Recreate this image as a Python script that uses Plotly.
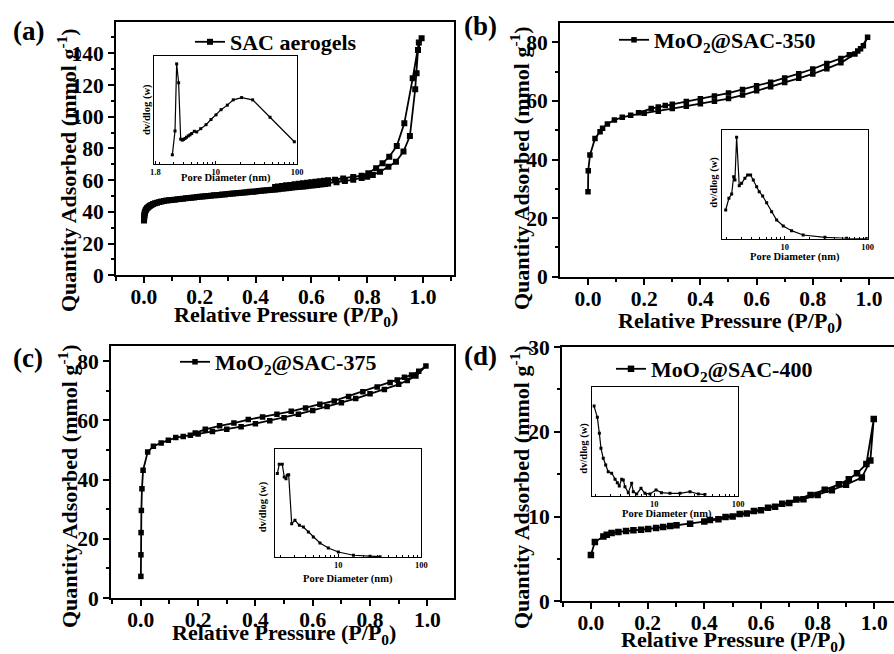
import math
import plotly.graph_objects as go

W, H = 894, 654
FONT = "Liberation Serif"

# ---------------- data ----------------
# (a) SAC aerogels
ads_a_x = [0.0003, 0.0006, 0.001, 0.0015, 0.002, 0.003, 0.004, 0.006, 0.008, 0.011, 0.014, 0.018,
           0.022, 0.027, 0.033, 0.04, 0.047, 0.055, 0.063, 0.072, 0.081, 0.09,
           0.10, 0.11, 0.12, 0.13, 0.14, 0.15, 0.16, 0.17, 0.18, 0.19, 0.20, 0.21, 0.22, 0.23,
           0.24, 0.25, 0.26, 0.27, 0.28, 0.29, 0.30, 0.31, 0.32, 0.33, 0.34, 0.35, 0.36, 0.37,
           0.38, 0.39, 0.40, 0.41, 0.42, 0.43, 0.44, 0.45, 0.46, 0.47, 0.48, 0.49, 0.50, 0.51,
           0.52, 0.53, 0.54, 0.55, 0.56, 0.57, 0.58, 0.59, 0.60, 0.61, 0.62, 0.63, 0.64, 0.65,
           0.66, 0.69, 0.72, 0.75, 0.78, 0.80, 0.82, 0.846, 0.876, 0.903, 0.93, 0.953, 0.972,
           0.977, 0.982, 0.995]
ads_a_y = [34.5, 35.5, 36.5, 37.5, 38.3, 39.2, 39.9, 40.8, 41.5, 42.2, 42.8, 43.4,
           43.9, 44.4, 44.9, 45.4, 45.8, 46.2, 46.5, 46.8, 47.1, 47.3,
           47.5, 47.7, 47.9, 48.1, 48.3, 48.5, 48.7, 48.9, 49.1, 49.3, 49.5, 49.7, 49.8, 50.0,
           50.2, 50.4, 50.5, 50.7, 50.9, 51.0, 51.2, 51.4, 51.5, 51.7, 51.9, 52.0, 52.2, 52.4,
           52.6, 52.7, 52.9, 53.1, 53.3, 53.4, 53.6, 53.8, 54.0, 54.1, 54.3, 54.5, 54.7, 54.9,
           55.1, 55.3, 55.5, 55.6, 55.8, 56.0, 56.2, 56.4, 56.6, 56.8, 57.0, 57.2, 57.4, 57.6,
           57.8, 58.7, 59.4, 60.3, 61.3, 62.2, 63.3, 65.3, 68.5, 71.6, 78.0, 87.8, 117.3,
           127.4, 142.0, 149.5]
des_a_x = [0.985, 0.963, 0.933, 0.906, 0.879, 0.855, 0.832, 0.804, 0.78, 0.75, 0.714, 0.685,
           0.66, 0.645, 0.63, 0.615, 0.60, 0.585, 0.57, 0.555, 0.54, 0.525, 0.51, 0.495, 0.48, 0.47]
des_a_y = [146.7, 124.2, 95.8, 81.5, 74.8, 70.6, 67.5, 64.3, 62.8, 62.0, 61.1, 60.3,
           59.9, 59.6, 59.3, 59.0, 58.7, 58.4, 58.1, 57.7, 57.4, 57.0, 56.7, 56.3, 56.0, 55.6]

# (b) MoO2@SAC-350
ads_b_x = [0.0, 0.001, 0.007, 0.025, 0.043, 0.052, 0.069, 0.094, 0.122, 0.152, 0.2, 0.25,
           0.3, 0.35, 0.4, 0.45, 0.5, 0.55, 0.6, 0.65, 0.7, 0.75, 0.8, 0.85, 0.9, 0.95, 0.97, 0.995]
ads_b_y = [29.0, 36.2, 41.5, 47.2, 49.5, 50.7, 52.1, 53.5, 54.4, 55.1, 55.8, 56.5,
           57.4, 58.2, 59.0, 59.9, 60.8, 62.0, 63.5, 64.8, 66.3, 67.7, 69.2, 71.0, 73.0, 76.0, 77.8, 81.7]
des_b_x = [0.98, 0.96, 0.93, 0.9, 0.85, 0.8, 0.75, 0.7, 0.65, 0.6, 0.55, 0.5, 0.45, 0.4,
           0.35, 0.3, 0.275, 0.25, 0.225, 0.18]
des_b_y = [78.8, 77.0, 75.8, 74.5, 72.8, 70.9, 69.3, 67.8, 66.4, 65.2, 63.9, 62.7, 61.7, 60.7,
           59.8, 58.9, 58.4, 57.9, 57.4, 56.0]

# (c) MoO2@SAC-375
ads_c_x = [0.0002, 0.0005, 0.001, 0.002, 0.004, 0.008, 0.024, 0.044, 0.071, 0.096, 0.122, 0.148,
           0.173, 0.2, 0.25, 0.3, 0.35, 0.4, 0.45, 0.5, 0.55, 0.6, 0.65, 0.7, 0.75, 0.8, 0.85,
           0.9, 0.93, 0.96, 0.995]
ads_c_y = [7.3, 14.6, 22.1, 29.6, 36.9, 43.2, 49.3, 51.3, 52.4, 53.3, 54.2, 54.6,
           55.0, 55.4, 56.3, 57.0, 57.9, 58.9, 59.9, 60.9, 62.1, 63.4, 64.7, 66.0, 67.4, 69.0, 70.5,
           72.2, 73.5, 75.0, 78.4]
des_c_x = [0.97, 0.945, 0.92, 0.895, 0.87, 0.825, 0.775, 0.725, 0.675, 0.625, 0.575, 0.525,
           0.475, 0.425, 0.375, 0.325, 0.275, 0.225, 0.19]
des_c_y = [76.6, 75.4, 74.6, 73.7, 72.8, 71.3, 69.7, 68.1, 66.6, 65.5, 64.2, 63.1,
           62.1, 61.2, 60.3, 59.1, 58.2, 57.0, 55.8]

# (d) MoO2@SAC-400
ads_d_x = [0.0, 0.014, 0.044, 0.056, 0.073, 0.097, 0.124, 0.15, 0.177, 0.202, 0.23, 0.255, 0.28,
           0.302, 0.35, 0.4, 0.45, 0.5, 0.55, 0.6, 0.65, 0.7, 0.75, 0.8, 0.85, 0.9, 0.956, 0.986, 0.998]
ads_d_y = [5.45, 7.0, 7.65, 7.85, 8.05, 8.18, 8.3, 8.37, 8.45, 8.53, 8.65, 8.77, 8.88,
           8.96, 9.15, 9.4, 9.68, 10.0, 10.35, 10.75, 11.15, 11.6, 12.05, 12.55, 13.1, 13.75, 14.6, 16.6, 21.5]
des_d_x = [0.972, 0.939, 0.91, 0.875, 0.825, 0.775, 0.725, 0.675, 0.625, 0.575, 0.525, 0.475, 0.42]
des_d_y = [16.2, 15.1, 14.4, 13.8, 13.15, 12.55, 12.0, 11.5, 11.05, 10.65, 10.3, 9.95, 9.6]

# insets: pore diameter (nm) vs dv/dlog(w) (relative units)
pore_a = [2.91, 3.14, 3.29, 3.48, 3.69, 3.86, 4.0, 4.17, 4.35, 4.58, 4.8, 5.04, 5.43, 5.81,
          6.51, 7.57, 8.72, 10.05, 11.6, 13.85, 16.4, 20.8, 28.4, 46.5, 92.7]
dv_a = [0.085, 0.306, 0.927, 0.752, 0.23, 0.221, 0.228, 0.236, 0.248, 0.26, 0.27, 0.282, 0.303,
        0.297, 0.327, 0.364, 0.412, 0.455, 0.503, 0.545, 0.594, 0.615, 0.594, 0.433, 0.206]
pore_b = [1.95, 2.13, 2.30, 2.43, 2.52, 2.64, 2.84, 3.03, 3.32, 3.58, 3.89, 4.19, 4.6, 4.94,
          5.43, 6.07, 6.97, 8.01, 9.62, 12.1, 16.7, 30.6, 55.8, 97.3]
dv_b = [0.264, 0.372, 0.411, 0.57, 0.54, 0.933, 0.488, 0.51, 0.556, 0.586, 0.586, 0.54, 0.478,
        0.432, 0.393, 0.331, 0.248, 0.172, 0.117, 0.074, 0.034, 0.013, 0.004, 0.002]
pore_c = [1.84, 1.94, 2.11, 2.23, 2.34, 2.43, 2.52, 2.74, 3.0, 3.39, 3.79, 4.35, 4.99, 6.01,
          7.57, 10.0, 15.2, 24.1, 31.8]
dv_c = [0.77, 0.856, 0.856, 0.739, 0.723, 0.754, 0.76, 0.308, 0.339, 0.293, 0.277, 0.231,
        0.185, 0.129, 0.083, 0.046, 0.016, 0.006, 0.003]
pore_d = [1.91, 2.09, 2.21, 2.31, 2.46, 2.63, 2.82, 3.1, 3.4, 3.62, 3.82, 4.08, 4.27, 4.47,
          4.9, 5.37, 5.62, 6.17, 6.94, 7.74, 8.89, 10.5, 12.2, 15.4, 20.3, 26.7, 33.6, 40.3]
dv_d = [0.827, 0.723, 0.576, 0.437, 0.345, 0.283, 0.221, 0.207, 0.151, 0.12, 0.089, 0.151,
        0.145, 0.083, 0.028, 0.114, 0.037, 0.016, 0.068, 0.022, 0.016, 0.053, 0.028, 0.022,
        0.022, 0.037, 0.016, 0.01]

names = ["SAC aerogels", "MoO<sub>2</sub>@SAC-350", "MoO<sub>2</sub>@SAC-375", "MoO<sub>2</sub>@SAC-400"]
panel_labels = ["(a)", "(b)", "(c)", "(d)"]

# ---------------- layout geometry (pixels) ----------------
def fx(p): return p / W
def fy(p): return 1 - p / H

main_geom = [  # x0, x1, ytop, ybottom, xrange, yrange, ydtick, mirror_y, marker size
    (116, 454, 22, 275.3, [-0.1, 1.111], [0, 159.7], 20, True, 6),
    (560, 894, 22.7, 276.7, [-0.0996, 1.089], [0, 86.7], 20, False, 5.5),
    (111, 454, 346.3, 598, [-0.104, 1.093], [0, 85.06], 20, True, 5.5),
    (562, 894, 347, 601.3, [-0.102, 1.0695], [0, 30], 10, False, 6.5),
]
inset_geom = [  # x0, x1, ytop, ybottom, xmin(nm), tickvals
    (154, 297, 56, 164, 1.73, [1.8, 10, 100]),
    (722, 867.7, 130, 238.7, 1.76, [10, 100]),
    (274.7, 421.3, 448.7, 557, 1.71, [10, 100]),
    (592.3, 738, 387.3, 495.7, 1.82, [10, 100]),
]

ads = [(ads_a_x, ads_a_y), (ads_b_x, ads_b_y), (ads_c_x, ads_c_y), (ads_d_x, ads_d_y)]
des = [(des_a_x, des_a_y), (des_b_x, des_b_y), (des_c_x, des_c_y), (des_d_x, des_d_y)]
ins = [(pore_a, dv_a), (pore_b, dv_b), (pore_c, dv_c), (pore_d, dv_d)]

fig = go.Figure()
tickfont = dict(family=FONT, size=21.5, color="black", weight="bold")
inset_tickfont = dict(family=FONT, size=8.5, color="black", weight="bold")
smallfont = dict(family=FONT, size=10.5, color="black", weight="bold")

layout = {}
for i in range(4):
    n = i + 1
    sx = "" if n == 1 else str(n)
    x0, x1, yt, yb, xr, yr, ydt, mir, ms = main_geom[i]
    ax, ay = ads[i]
    dx, dy = des[i]
    fig.add_trace(go.Scatter(
        x=ax + dx, y=ay + dy, mode="lines+markers", name=names[i],
        line=dict(color="black", width=1.8),
        marker=dict(symbol="square", size=ms, color="black"),
        xaxis="x" + sx, yaxis="y" + sx, legend="legend" + sx, showlegend=True))
    layout["xaxis" + sx] = dict(
        domain=[fx(x0), fx(x1)], range=xr, anchor="y" + sx, automargin=False,
        tick0=0, dtick=0.2, tickformat=".1f", ticks="outside", ticklen=6, tickwidth=2,
        ticklabelstandoff=-5,
        tickcolor="black", tickfont=tickfont, showgrid=False, zeroline=False,
        showline=True, linecolor="black", linewidth=2, mirror=True,
        minor=dict(tick0=0, dtick=0.1, ticks="outside", ticklen=3.5, tickwidth=1.5, tickcolor="black"))
    layout["yaxis" + sx] = dict(
        domain=[fy(yb), fy(yt)], range=yr, anchor="x" + sx, automargin=False,
        tick0=0, dtick=ydt, ticks="outside", ticklen=6, tickwidth=2, tickcolor="black",
        tickfont=tickfont, showgrid=False, zeroline=False,
        showline=True, linecolor="black", linewidth=2, mirror=mir,
        minor=dict(tick0=0, dtick=ydt / 2, ticks="outside", ticklen=3.5, tickwidth=1.5, tickcolor="black"))

    # inset
    m = i + 5
    ix0, ix1, iyt, iyb, xmin, tv = inset_geom[i]
    px_, py_ = ins[i]
    fig.add_trace(go.Scatter(
        x=px_, y=py_, mode="lines+markers", showlegend=False,
        line=dict(color="black", width=1.2),
        marker=dict(symbol="square", size=3, color="black"),
        xaxis="x" + str(m), yaxis="y" + str(m)))
    layout["xaxis" + str(m)] = dict(
        domain=[fx(ix0), fx(ix1)], type="log", range=[math.log10(xmin), 2],
        anchor="y" + str(m), automargin=False, tickvals=tv, ticktext=[str(v) for v in tv],
        ticks="inside", ticklen=3, tickwidth=1, tickcolor="black", tickfont=inset_tickfont,
        showgrid=False, zeroline=False, showline=True, linecolor="black", linewidth=1.3,
        mirror=True,
        minor=dict(tickvals=[2, 3, 4, 5, 6, 7, 8, 9, 20, 30, 40, 50, 60, 70, 80, 90],
                   ticks="inside", ticklen=1.8, tickwidth=0.8, tickcolor="black"))
    layout["yaxis" + str(m)] = dict(
        domain=[fy(iyb), fy(iyt)], range=[0, 1], anchor="x" + str(m), automargin=False,
        showticklabels=False, ticks="", showgrid=False, zeroline=False,
        showline=True, linecolor="black", linewidth=1.3, mirror=True)

# legends
leg_pos = [(190, 42), (614, 40), (175, 362), (611, 369)]
for i, (lx, ly) in enumerate(leg_pos):
    key = "legend" if i == 0 else "legend" + str(i + 1)
    layout[key] = dict(x=fx(lx), y=fy(ly), xanchor="left", yanchor="middle",
                       bgcolor="rgba(0,0,0,0)", borderwidth=0,
                       font=dict(family=FONT, size=22, color="black", weight="bold"))

# annotations: panel labels, axis titles
ann = []
big = dict(family=FONT, size=27, color="black", weight="bold")
titlefont = dict(family=FONT, size=22, color="black", weight="bold")
ytitlefont = dict(family=FONT, size=22, color="black", weight="bold")
lab_pos = [(29, 31), (480, 26), (28, 358), (480, 356)]
ytitle_pos = [(67, 170), (520, 168), (68, 486), (520, 487)]
xtitle_pos = [(286, 316), (730, 322), (284, 634), (733, 641)]
ipd_pos = [(226, 178.5), (795, 257), (347.5, 578.7), (667, 513.7)]
idv_pos = [(147, 110), (713.7, 182), (263.3, 507), (583.7, 448)]


def add_ann(text, pos, font, angle=0):
    ann.append(dict(text=text, x=fx(pos[0]), y=fy(pos[1]), xref="paper", yref="paper",
                    xanchor="center", yanchor="middle", showarrow=False, font=font,
                    textangle=angle))


for i in range(4):
    add_ann(panel_labels[i], lab_pos[i], big)
    add_ann("Quantity Adsorbed (mmol g<sup>-1</sup>)", ytitle_pos[i], ytitlefont, -90)
    add_ann("Relative Pressure (P/P<sub>0</sub>)", xtitle_pos[i], titlefont)
    add_ann("Pore Diameter (nm)", ipd_pos[i], smallfont)
    add_ann("dv/dlog (w)", idv_pos[i], smallfont, -90)

fig.update_layout(**layout)
fig.update_layout(
    width=W, height=H, margin=dict(l=0, r=0, t=0, b=0, autoexpand=False),
    paper_bgcolor="white", plot_bgcolor="white", showlegend=True,
    annotations=ann, font=dict(family=FONT, color="black"))

fig.write_html("out.html", config={"displayModeBar": False},
               post_script="document.body.style.margin='0';document.body.style.padding='0';")
